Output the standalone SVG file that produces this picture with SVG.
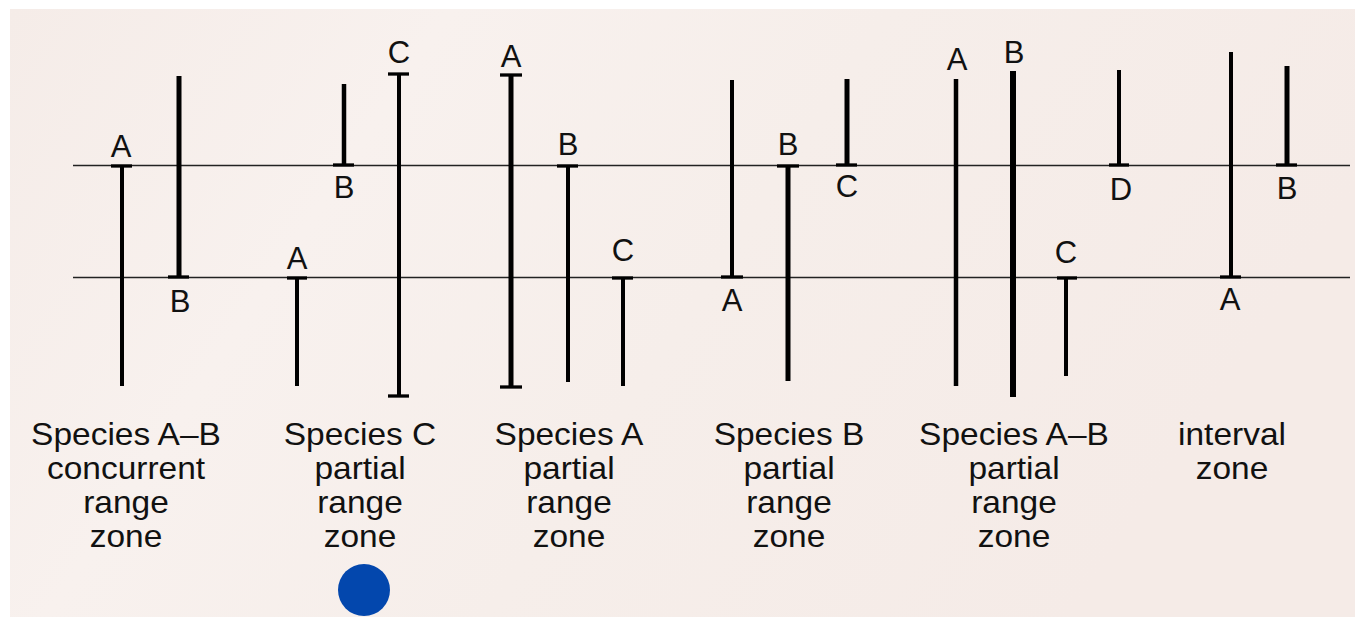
<svg xmlns="http://www.w3.org/2000/svg" width="1355" height="617" viewBox="0 0 1355 617">
  <defs>
    <linearGradient id="bg" x1="0" y1="0" x2="1" y2="0.3">
      <stop offset="0" stop-color="#f5ece8"/>
      <stop offset="0.3" stop-color="#f8f1ee"/>
      <stop offset="0.6" stop-color="#f6eeea"/>
      <stop offset="1" stop-color="#f5ebe7"/>
    </linearGradient>
  </defs>
  <style>
    .bar { stroke: #000; stroke-linecap: butt; fill: none; }
    .tick { stroke: #000; stroke-width: 3.3; fill: none; }
    .hline { stroke: #222; stroke-width: 1.4; fill: none; }
    .lbl { font-family: "Liberation Sans", Arial, sans-serif; font-size: 31px; fill: #111; text-anchor: middle; }
    .zone { font-family: "Liberation Sans", Arial, sans-serif; font-size: 31px; fill: #111; text-anchor: middle; }
  </style>
  <rect x="0" y="0" width="1355" height="617" fill="#ffffff"/>
  <rect x="10" y="9" width="1345" height="608" fill="url(#bg)"/>

  <g id="connectors">
    <line class="hline" x1="73" y1="165.5" x2="1350" y2="165.5"/>
    <line class="hline" x1="73" y1="277.5" x2="1350" y2="277.5"/>
  </g>

  <g id="bar1"><line class="bar" stroke-width="4" x1="122" y1="166" x2="122" y2="386"/><line class="tick" x1="111" y1="166" x2="132" y2="166"/><text class="lbl" x="121" y="157">A</text></g>
  <g id="bar2"><line class="bar" stroke-width="5" x1="179" y1="76" x2="179" y2="277"/><line class="tick" x1="168" y1="277" x2="189" y2="277"/><text class="lbl" x="180" y="312">B</text></g>
  <g id="bar3"><line class="bar" stroke-width="4.5" x1="344" y1="84" x2="344" y2="165"/><line class="tick" x1="333" y1="165" x2="354" y2="165"/><text class="lbl" x="344" y="198">B</text></g>
  <g id="bar4"><line class="bar" stroke-width="4" x1="297" y1="278" x2="297" y2="386"/><line class="tick" x1="287" y1="278" x2="307" y2="278"/><text class="lbl" x="297" y="269">A</text></g>
  <g id="bar5"><line class="bar" stroke-width="4" x1="399" y1="74" x2="399" y2="396"/><line class="tick" x1="388" y1="74" x2="409" y2="74"/><line class="tick" x1="388" y1="396" x2="409" y2="396"/><text class="lbl" x="399" y="63">C</text></g>
  <g id="bar6"><line class="bar" stroke-width="5" x1="511" y1="75" x2="511" y2="387"/><line class="tick" x1="500" y1="75" x2="522" y2="75"/><line class="tick" x1="500" y1="387" x2="522" y2="387"/><text class="lbl" x="511" y="67">A</text></g>
  <g id="bar7"><line class="bar" stroke-width="4" x1="568" y1="166" x2="568" y2="382"/><line class="tick" x1="557" y1="166" x2="578" y2="166"/><text class="lbl" x="568" y="155">B</text></g>
  <g id="bar8"><line class="bar" stroke-width="4" x1="623" y1="278" x2="623" y2="386"/><line class="tick" x1="612" y1="278" x2="633" y2="278"/><text class="lbl" x="623" y="261">C</text></g>
  <g id="bar9"><line class="bar" stroke-width="4" x1="732" y1="80" x2="732" y2="277"/><line class="tick" x1="721" y1="277" x2="743" y2="277"/><text class="lbl" x="732" y="311">A</text></g>
  <g id="bar10"><line class="bar" stroke-width="5" x1="788" y1="166" x2="788" y2="381"/><line class="tick" x1="777" y1="166" x2="799" y2="166"/><text class="lbl" x="788" y="155">B</text></g>
  <g id="bar11"><line class="bar" stroke-width="5" x1="847" y1="79" x2="847" y2="165"/><line class="tick" x1="836" y1="165" x2="857" y2="165"/><text class="lbl" x="847" y="197">C</text></g>
  <g id="bar12"><line class="bar" stroke-width="4.5" x1="956" y1="79" x2="956" y2="386"/><text class="lbl" x="957" y="70">A</text></g>
  <g id="bar13"><line class="bar" stroke-width="6" x1="1013" y1="71" x2="1013" y2="397"/><text class="lbl" x="1014" y="63">B</text></g>
  <g id="bar14"><line class="bar" stroke-width="4" x1="1066" y1="278" x2="1066" y2="376"/><line class="tick" x1="1057" y1="278" x2="1077" y2="278"/><text class="lbl" x="1066" y="263">C</text></g>
  <g id="bar15"><line class="bar" stroke-width="4" x1="1119" y1="70" x2="1119" y2="165"/><line class="tick" x1="1109" y1="165" x2="1129" y2="165"/><text class="lbl" x="1121" y="200">D</text></g>
  <g id="bar16"><line class="bar" stroke-width="4" x1="1231" y1="52" x2="1231" y2="277"/><line class="tick" x1="1220" y1="277" x2="1241" y2="277"/><text class="lbl" x="1230" y="310">A</text></g>
  <g id="bar17"><line class="bar" stroke-width="5" x1="1287" y1="66" x2="1287" y2="165"/><line class="tick" x1="1276" y1="165" x2="1297" y2="165"/><text class="lbl" x="1287" y="199">B</text></g>

  <g id="zone1" transform="translate(126 0) scale(1.08 1)"><text class="zone" x="0" y="445">Species A–B</text><text class="zone" x="0" y="479">concurrent</text><text class="zone" x="0" y="513">range</text><text class="zone" x="0" y="547">zone</text></g>
  <g id="zone2" transform="translate(360 0) scale(1.08 1)"><text class="zone" x="0" y="445">Species C</text><text class="zone" x="0" y="479">partial</text><text class="zone" x="0" y="513">range</text><text class="zone" x="0" y="547">zone</text></g>
  <g id="zone3" transform="translate(569 0) scale(1.08 1)"><text class="zone" x="0" y="445">Species A</text><text class="zone" x="0" y="479">partial</text><text class="zone" x="0" y="513">range</text><text class="zone" x="0" y="547">zone</text></g>
  <g id="zone4" transform="translate(789 0) scale(1.08 1)"><text class="zone" x="0" y="445">Species B</text><text class="zone" x="0" y="479">partial</text><text class="zone" x="0" y="513">range</text><text class="zone" x="0" y="547">zone</text></g>
  <g id="zone5" transform="translate(1014 0) scale(1.08 1)"><text class="zone" x="0" y="445">Species A–B</text><text class="zone" x="0" y="479">partial</text><text class="zone" x="0" y="513">range</text><text class="zone" x="0" y="547">zone</text></g>
  <g id="zone6" transform="translate(1232 0) scale(1.08 1)"><text class="zone" x="0" y="445">interval</text><text class="zone" x="0" y="479">zone</text></g>

  <circle id="dot" cx="364" cy="590" r="26" fill="#0347ad"/>
</svg>
